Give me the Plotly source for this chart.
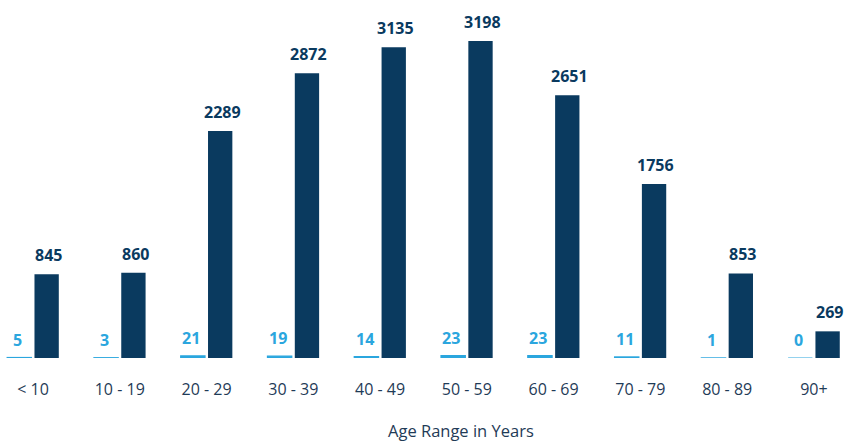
import plotly.graph_objects as go

categories = ["< 10", "10 - 19", "20 - 29", "30 - 39", "40 - 49", "50 - 59", "60 - 69", "70 - 79", "80 - 89", "90+"]
series_light = [5, 3, 21, 19, 14, 23, 23, 11, 1, 0]
series_dark = [845, 860, 2289, 2872, 3135, 3198, 2651, 1756, 853, 269]

LIGHT = "#2ba6de"
DARK = "#0a3a5f"
AXIS_TXT = "#1f3b57"
FONT = "Open Sans"

fig = go.Figure()
fig.add_trace(go.Bar(x=categories, y=series_light, marker=dict(color=LIGHT, line=dict(color=LIGHT, width=1.2)),
                     name="light", showlegend=False))
fig.add_trace(go.Bar(x=categories, y=series_dark, marker=dict(color=DARK, line=dict(width=0)),
                     name="dark", showlegend=False))

for i, v in enumerate(series_dark):
    fig.add_annotation(x=i, y=v, xref="x", yref="y", text=f"<b>{v}</b>", showarrow=False,
                       xshift=15.5, yshift=6, yanchor="bottom",
                       font=dict(family=FONT, size=16, color=DARK))
for i, v in enumerate(series_light):
    fig.add_annotation(x=i, y=v, xref="x", yref="y", text=f"<b>{v}</b>", showarrow=False,
                       xshift=-15.5, yshift=5, yanchor="bottom",
                       font=dict(family=FONT, size=16, color=LIGHT))

fig.add_annotation(x=461 / 845, xref="paper", y=-(430 - 358) / (445 - 20 - 87), yref="paper",
                   yanchor="middle", text="Age Range in Years", showarrow=False,
                   font=dict(family=FONT, size=16.5, color=AXIS_TXT))

fig.update_layout(
    width=845, height=445,
    margin=dict(l=0, r=0, t=20, b=87),
    paper_bgcolor="white", plot_bgcolor="white",
    barmode="group", bargap=0.37, bargroupgap=0.11,
    xaxis=dict(range=[-0.38, 9.358], showgrid=False, showline=False, zeroline=False,
               ticks="outside", ticklen=17, tickcolor="rgba(0,0,0,0)",
               tickfont=dict(family=FONT, size=16, color=AXIS_TXT)),
    yaxis=dict(range=[0, 3410], visible=False, showgrid=False, zeroline=False),
)
fig.write_html("out.html", config={"displayModeBar": False},
               post_script="document.body.style.margin='0';")
